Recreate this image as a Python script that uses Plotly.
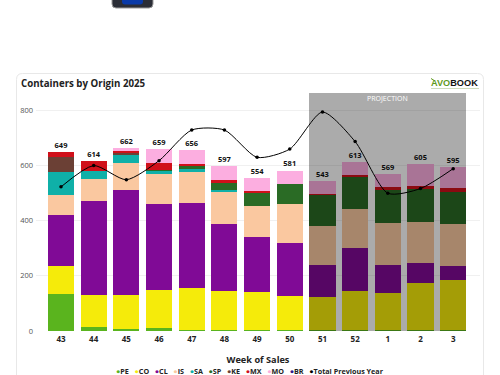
import plotly.graph_objects as go

weeks = ["43","44","45","46","47","48","49","50","51","52","1","2","3"]
PE = [134,14,8,11,3,3,3,5,3,3,5,5,5]
CO = [101,118,123,136,153,141,139,122,121,143,134,170,180]
CL = [186,338,380,314,309,244,198,191,115,154,101,71,51]
IS = [73,81,96,109,112,117,114,142,142,141,150,150,150]
SA = [83,30,31,10,9,6,0,0,0,0,0,0,0]
SP = [0,0,0,3,12,26,48,71,112,120,121,118,119]
KE = [52,0,7,0,0,0,0,0,0,0,0,0,0]
MX = [20,33,10,27,8,10,4,0,3,4,11,12,12]
MO = [0,0,7,49,50,50,49,50,47,48,47,79,78]
BR = [0,0,0,0,0,0,0,0,0,0,0,0,0]
totals = [649,614,662,659,656,597,554,581,543,613,569,605,595]
previous_year = [522,599,548,617,728,728,629,659,793,686,499,516,588]

series = [("PE",PE,"#5ab41e"),("CO",CO,"#f5eb0a"),("CL",CL,"#800a96"),("IS",IS,"#fac8a0"),
          ("SA",SA,"#0fb0a8"),("SP",SP,"#2a6b25"),("KE",KE,"#6b4035"),("MX",MX,"#d0101a"),
          ("MO",MO,"#fcaee0"),("BR",BR,"#2e1a8c")]
line_name = "Total Previous Year"

FONT = "Open Sans"
L, R, T, B = 36, 480, 93, 331
px = lambda x: (x - L) / (R - L)
py = lambda y: (B - y) / (B - T)

def round_rect(x0, y0, x1, y1, r):
    a, b, c, d = px(x0), py(y0), px(x1), py(y1)
    rx, ry = r / (R - L), r / (B - T)
    return (f"M{a+rx},{b} L{c-rx},{b} Q{c},{b} {c},{b-ry} L{c},{d+ry} Q{c},{d} {c-rx},{d} "
            f"L{a+rx},{d} Q{a},{d} {a},{d+ry} L{a},{b-ry} Q{a},{b} {a+rx},{b} Z")

fig = go.Figure()
for name, vals, col in series:
    fig.add_bar(x=weeks, y=vals, name=name, marker=dict(color=col, line_width=0), showlegend=False)
fig.add_scatter(x=weeks, y=previous_year, mode="lines+markers", name=line_name, showlegend=False,
                line=dict(color="#000", width=1, shape="spline", smoothing=0.7),
                marker=dict(color="#000", size=3.5))
fig.add_scatter(x=weeks, y=totals, mode="text+markers", text=[str(v) for v in totals], textposition="top center",
                marker=dict(size=2, opacity=0),
                textfont=dict(family=FONT, size=7.5, color="#111", weight="bold"), showlegend=False)

gap = "\u00a0\u00a0\u00a0"
legend_text = gap.join(f"<span style='color:{c}'>●</span>{n}" for n, _, c in series)
legend_text += f"{gap}<span style='color:#000'>●</span>{line_name}"

fig.update_layout(
    width=500, height=375, autosize=False, barmode="stack", bargap=0.2,
    margin=dict(l=L, r=500-R, t=T, b=375-B, autoexpand=False),
    paper_bgcolor="#fff", plot_bgcolor="#fff", font=dict(family=FONT, size=8, color="#444"),
    showlegend=False,
    xaxis=dict(type="category", categoryorder="array", categoryarray=weeks, range=[-0.765, 12.82],
               showgrid=False, zeroline=False, showline=False, ticks="", ticklen=0, ticklabelstandoff=2,
               tickfont=dict(family=FONT, size=8, color="#222", weight="bold"),
               title=dict(text="Week of Sales", standoff=13,
                          font=dict(family=FONT, size=9.2, color="#222", weight="bold"))),
    yaxis=dict(range=[0, 862], tickvals=[0,200,400,600,800], showgrid=True, gridcolor="#f0f0f0",
               gridwidth=1, zeroline=False, ticks="", ticklabelstandoff=2,
               tickfont=dict(family=FONT, size=7.5, color="#555")),
    shapes=[
        dict(type="path", xref="paper", yref="paper", path=round_rect(16.5,73.5,483.5,420,6),
             line=dict(color="#e8e8e8", width=1), fillcolor="rgba(0,0,0,0)", layer="below"),
        dict(type="path", xref="paper", yref="paper", path=round_rect(112,-12,153,8,4),
             line=dict(color="#9a9a9a", width=1), fillcolor="#2b2d36", layer="below"),
        dict(type="path", xref="paper", yref="paper", path=round_rect(122,-12,143,4.5,3),
             line_width=0, fillcolor="#0a3aa8", layer="below"),
        dict(type="rect", xref="paper", yref="paper", x0=px(309), x1=px(466), y0=0, y1=1,
             line_width=0, fillcolor="rgba(0,0,0,0.33)", layer="above"),
        dict(type="line", xref="paper", yref="paper", x0=px(431), x1=px(479), y0=py(88.5), y1=py(88.5),
             line=dict(color="#b9cda0", width=0.7)),
        dict(type="line", xref="paper", yref="paper", x0=px(431), x1=px(435), y0=py(78.5), y1=py(81),
             line=dict(color="#5f9a1e", width=1)),
    ],
    annotations=[
        dict(text="<b>Containers by Origin 2025</b>", xref="paper", yref="paper", x=px(19), y=py(83.5),
             xanchor="left", yanchor="middle", showarrow=False, font=dict(family=FONT, size=9.7, color="#222")),
        dict(text="PROJECTION", xref="paper", yref="paper", x=px(387.5), y=py(98.5), showarrow=False,
             xanchor="center", yanchor="middle", font=dict(family=FONT, size=7, color="#fff")),
        dict(text="<b><span style='color:#5f9a1e'>AVO</span><span style='color:#111'>BOOK</span></b>",
             xref="paper", yref="paper", x=px(480), y=py(83.5), xanchor="right", yanchor="middle",
             showarrow=False, font=dict(family="Liberation Sans", size=9.2)),
        dict(text=f"<b>{legend_text}</b>", xref="paper", yref="paper", x=px(249.5), y=py(370.5), xanchor="center",
             yanchor="middle", showarrow=False, font=dict(family=FONT, size=7.2, color="#222")),
    ],
)
fig.write_html("out.html", post_script="document.body.style.margin='0';", config=dict(displayModeBar=False))
